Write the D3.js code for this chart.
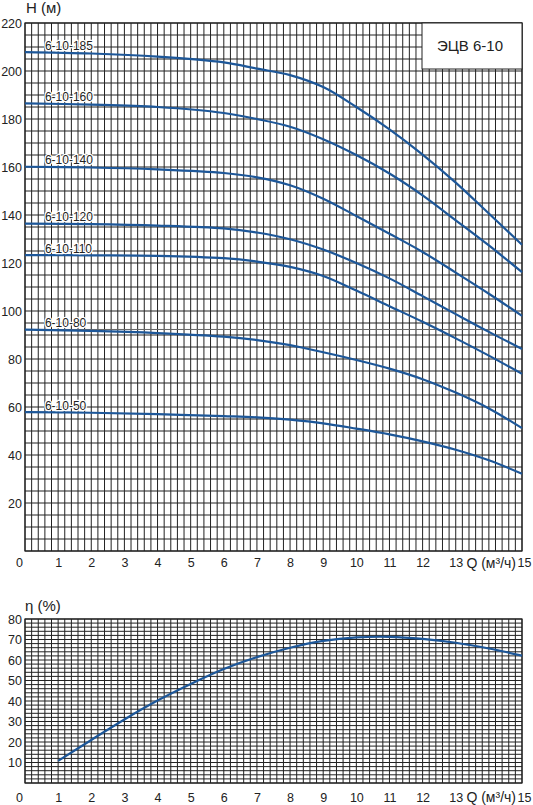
<!DOCTYPE html>
<html>
<head>
<meta charset="utf-8">
<script src="https://cdn.jsdelivr.net/npm/d3@7"></script>
<style>
  body { margin: 0; background: #fff; }
  svg text { font-family: "Liberation Sans", Arial, sans-serif; fill: #222; }
</style>
</head>
<body>
<div id="chart"></div>
<script>
// flow points, m3/h
const qHead = [0, 2, 4, 6, 7, 8, 9, 10, 11, 12, 13, 14, 15];
// head curves, m
const h185 = [207.9, 207.3, 206.0, 203.6, 201.0, 198.3, 193.3, 185.0, 175.7, 165.2, 153.5, 140.6, 127.6];
const h160 = [186.5, 186.0, 185.0, 182.5, 180.0, 176.8, 171.6, 165.0, 157.3, 148.2, 137.8, 127.3, 116.2];
const h140 = [160.1, 159.8, 159.0, 157.5, 155.7, 152.4, 146.8, 139.6, 132.2, 124.6, 116.0, 107.2, 98.0];
const h120 = [136.4, 136.2, 135.6, 134.4, 132.7, 129.9, 125.6, 120.0, 113.6, 106.2, 98.7, 91.3, 84.2];
const h110 = [123.3, 123.2, 123.0, 122.0, 120.6, 118.4, 114.6, 108.5, 102.0, 95.5, 88.6, 81.4, 73.8];
const h80  = [92.2, 91.7, 90.8, 89.3, 87.9, 85.8, 82.8, 79.6, 76.0, 71.6, 66.0, 59.4, 51.2];
const h50  = [57.9, 57.6, 57.0, 56.2, 55.7, 54.7, 53.2, 51.0, 48.6, 45.7, 42.2, 37.8, 32.2];
const pumpNames = ["6-10-185", "6-10-160", "6-10-140", "6-10-120", "6-10-110", "6-10-80", "6-10-50"];
const headSeries = [h185, h160, h140, h120, h110, h80, h50];

// efficiency curve
const qEff = [1, 2, 3, 4, 5, 6, 7, 8, 9, 10, 11, 12, 13, 14, 15];
const eff  = [10.8, 21.0, 31.0, 40.2, 48.3, 55.6, 61.4, 66.0, 69.3, 71.0, 71.3, 70.3, 68.4, 65.6, 62.1];

const xTicks = [0, 1, 2, 3, 4, 5, 6, 7, 8, 9, 10, 11, 12, 13, 15];
const headTicks = [20, 40, 60, 80, 100, 120, 140, 160, 180, 200, 220];
const effTicks = [10, 20, 30, 40, 50, 60, 70, 80];
const refHead = 92.3;   // stray horizontal line in the original
const title = "ЭЦВ 6-10";

const width = 533, height = 805;
const left = 25, right = 522;
const blue = "#1d5799";

const svg = d3.select("#chart").append("svg")
    .attr("width", width)
    .attr("height", height);

const x = d3.scaleLinear().domain([0, 15]).range([left, right]);
const yH = d3.scaleLinear().domain([0, 220]).range([551, 23]);
const yE = d3.scaleLinear().domain([0, 80]).range([783, 619]);

function grid(y, yStep, yMax) {
    const g = svg.append("g").attr("stroke", "#222").attr("stroke-width", 1);
    d3.range(0, 15.001, 0.2).forEach(v => {
        g.append("line")
            .attr("x1", x(v)).attr("x2", x(v))
            .attr("y1", y(0)).attr("y2", y(yMax));
    });
    d3.range(0, yMax + 0.001, yStep).forEach(v => {
        g.append("line")
            .attr("x1", left).attr("x2", right)
            .attr("y1", y(v)).attr("y2", y(v));
    });
    svg.append("rect")
        .attr("x", left).attr("y", y(yMax))
        .attr("width", right - left).attr("height", y(0) - y(yMax))
        .attr("fill", "none").attr("stroke", "#222").attr("stroke-width", 1.2);
}

// ---- top chart: head ----
grid(yH, 5, 220);

svg.append("line")
    .attr("x1", left).attr("x2", right)
    .attr("y1", yH(refHead)).attr("y2", yH(refHead))
    .attr("stroke", "#666").attr("stroke-width", 1);

// title box
svg.append("rect")
    .attr("x", 422).attr("y", yH(220))
    .attr("width", right - 422).attr("height", 46)
    .attr("fill", "#fff").attr("stroke", "#222").attr("stroke-width", 1);
svg.append("text")
    .attr("x", 470).attr("y", 51)
    .attr("text-anchor", "middle")
    .attr("font-size", 15)
    .text(title);

const headLine = d3.line()
    .x(d => x(d[0]))
    .y(d => yH(d[1]))
    .curve(d3.curveCatmullRom.alpha(0.5));

headSeries.forEach((s, i) => {
    svg.append("path")
        .datum(qHead.map((q, j) => [q, s[j]]))
        .attr("fill", "none")
        .attr("stroke", blue)
        .attr("stroke-width", 2.2)
        .attr("d", headLine);
    svg.append("text")
        .attr("x", x(0.6))
        .attr("y", yH(s[0]) - 2.5)
        .attr("font-size", 12)
        .attr("stroke", "#fff")
        .attr("stroke-width", 2.5)
        .attr("paint-order", "stroke")
        .text(pumpNames[i]);
});

const yAxisH = svg.append("g")
    .attr("transform", `translate(${left},0)`)
    .call(d3.axisLeft(yH).tickValues(headTicks).tickSize(0).tickPadding(3));
yAxisH.select(".domain").remove();

const xAxisH = svg.append("g")
    .attr("transform", `translate(0,${yH(0)})`)
    .call(d3.axisBottom(x).tickValues(xTicks).tickSize(0).tickPadding(7));
xAxisH.select(".domain").remove();

svg.append("text")
    .attr("x", 516).attr("y", 568)
    .attr("text-anchor", "end")
    .attr("font-size", 14)
    .text("Q (м³/ч)");
svg.append("text")
    .attr("x", 26).attr("y", 13)
    .attr("font-size", 15)
    .text("H (м)");

// ---- bottom chart: efficiency ----
grid(yE, 2, 80);

svg.append("path")
    .datum(qEff.map((q, j) => [q, eff[j]]))
    .attr("fill", "none")
    .attr("stroke", blue)
    .attr("stroke-width", 2.2)
    .attr("d", d3.line().x(d => x(d[0])).y(d => yE(d[1])).curve(d3.curveCatmullRom.alpha(0.5)));

const yAxisE = svg.append("g")
    .attr("transform", `translate(${left},0)`)
    .call(d3.axisLeft(yE).tickValues(effTicks).tickSize(0).tickPadding(3));
yAxisE.select(".domain").remove();

const xAxisE = svg.append("g")
    .attr("transform", `translate(0,${yE(0)})`)
    .call(d3.axisBottom(x).tickValues(xTicks).tickSize(0).tickPadding(10));
xAxisE.select(".domain").remove();

svg.append("text")
    .attr("x", 516).attr("y", 802)
    .attr("text-anchor", "end")
    .attr("font-size", 14)
    .text("Q (м³/ч)");
svg.append("text")
    .attr("x", 25).attr("y", 611)
    .attr("font-size", 15)
    .text("η (%)");

// tick label tweaks
svg.selectAll(".tick text")
    .attr("font-size", 12.5)
    .attr("font-family", "Liberation Sans, Arial, sans-serif")
    .attr("fill", "#222");
[xAxisH, xAxisE].forEach(ax => {
    ax.selectAll(".tick text")
        .filter(d => d === 0)
        .attr("dx", -6);
    ax.selectAll(".tick text")
        .filter(d => d === 15)
        .attr("dx", 2);
});
</script>
</body>
</html>
